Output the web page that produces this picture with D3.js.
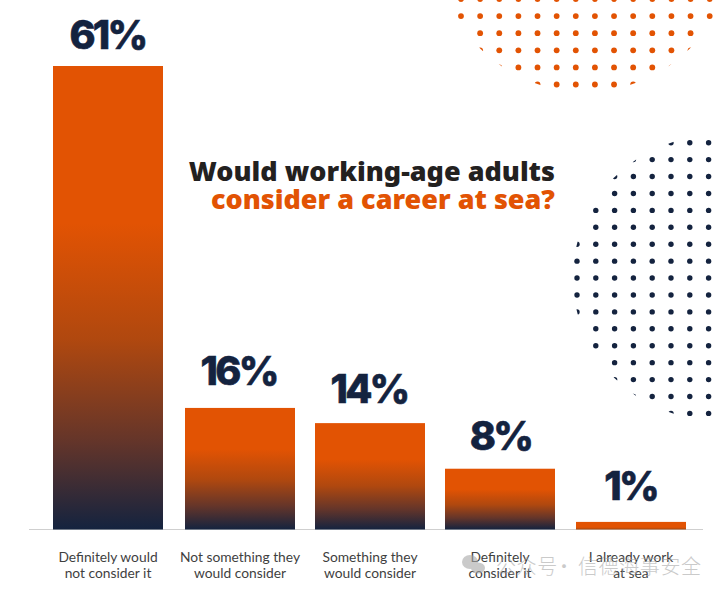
<!DOCTYPE html>
<html><head><meta charset="utf-8">
<script src="https://d3js.org/d3.v7.min.js"></script>
<style>html,body{margin:0;background:#fff}svg{display:block}</style></head>
<body><svg id="c" width="725" height="596"></svg>
<script>
const categories = [["Definitely would","not consider it"],["Not something they","would consider"],["Something they","would consider"],["Definitely","consider it"],["I already work","at sea"]];
const values = [61,16,14,8,1];
const barLeft = [53,185,315,445,576];
const labelCenter = [107.5,238.6,369,500.5,630.5];
const labelGap = [17,23,20,19,22];
const titleLines = ["Would working-age adults","consider a career at sea?"];
const watermarkParts = [["公众号",496],["·",554],["信德海事安全",578]];
const ORANGE="#e25303", NAVY="#14233f";

const svg=d3.select("#c");
const y=d3.scaleLinear().domain([0,61]).range([529.5,66]);
const defs=svg.append("defs");

function dotField(id,color,cx,cy,r,x0,dx,nx,y0,dy,ny,rad){
  defs.append("clipPath").attr("id",id).append("circle").attr("cx",cx).attr("cy",cy).attr("r",r);
  const gx=d3.scaleLinear().domain([0,1]).range([x0,x0+dx]);
  const gy=d3.scaleLinear().domain([0,1]).range([y0,y0+dy]);
  const pts=d3.cross(d3.range(nx),d3.range(ny));
  svg.append("g").attr("clip-path",`url(#${id})`).selectAll("circle").data(pts).join("circle")
    .attr("cx",d=>gx(d[0])).attr("cy",d=>gy(d[1])).attr("r",rad).attr("fill",color);
}
dotField("clipO",ORANGE,585,-56,148,461,19.13,14,-1,17.1,6,2.9);
dotField("clipN",NAVY,714.8,277.7,142,577,18.8,8,142.7,16.92,17,2.7);

values.forEach((v,i)=>{
  const g=defs.append("linearGradient").attr("id","g"+i).attr("x1",0).attr("x2",0).attr("y1",0).attr("y2",1);
  const s=v>=2?[[0,ORANGE],[0.34,ORANGE],[0.59,"#b0480f"],[0.81,"#64352a"],[1,NAVY]]:[[0,ORANGE],[0.7,ORANGE],[1,"#a5480f"]];
  g.selectAll("stop").data(s).join("stop").attr("offset",d=>d[0]).attr("stop-color",d=>d[1]);
});
svg.append("line").attr("x1",29).attr("x2",703).attr("y1",529.5).attr("y2",529.5).attr("stroke","#cfcfcf").attr("stroke-width",1);
svg.selectAll("rect.b").data(values).join("rect").attr("class","b")
  .attr("x",(d,i)=>barLeft[i]).attr("width",110).attr("y",d=>y(d)).attr("height",d=>y(0)-y(d))
  .attr("fill",(d,i)=>`url(#g${i})`);
svg.selectAll("text.v").data(values).join("text").attr("class","v")
  .attr("x",(d,i)=>labelCenter[i]).attr("y",(d,i)=>y(d)-labelGap[i]).attr("text-anchor","middle")
  .attr("font-family","Inter").attr("font-weight",800).attr("font-size",39.5).attr("letter-spacing",-2.7)
  .attr("stroke",NAVY).attr("stroke-width",.6)
  .attr("fill",NAVY).text(d=>d+"%");
categories.forEach((c,i)=>{
  svg.append("text").attr("text-anchor","middle").attr("font-family","Lato").attr("font-size",13.8).attr("fill","#3f3f3f")
    .selectAll("tspan").data(c).join("tspan").attr("x",barLeft[i]+55).attr("y",(d,j)=>562+j*16).text(d=>d);
});
svg.selectAll("text.t").data(titleLines).join("text").attr("class","t")
  .attr("x",555).attr("y",(d,i)=>181+i*28).attr("text-anchor","end")
  .attr("font-family","'Noto Sans'").attr("font-weight",900).attr("font-size",27)
  .attr("fill",(d,i)=>i?ORANGE:"#23211f").text(d=>d);
const wm=svg.append("g").attr("opacity",.6).attr("fill","#a8a8a8");
wm.append("ellipse").attr("cx",470).attr("cy",562).attr("rx",8).attr("ry",7);
wm.append("ellipse").attr("cx",478).attr("cy",568).attr("rx",7).attr("ry",5.5);
wm.selectAll("text").data(watermarkParts).join("text").attr("x",d=>d[1]).attr("y",574)
  .attr("font-family","'Noto Sans CJK SC'").attr("font-weight",300).attr("font-size",20).attr("letter-spacing",.6).text(d=>d[0]);
</script></body></html>
